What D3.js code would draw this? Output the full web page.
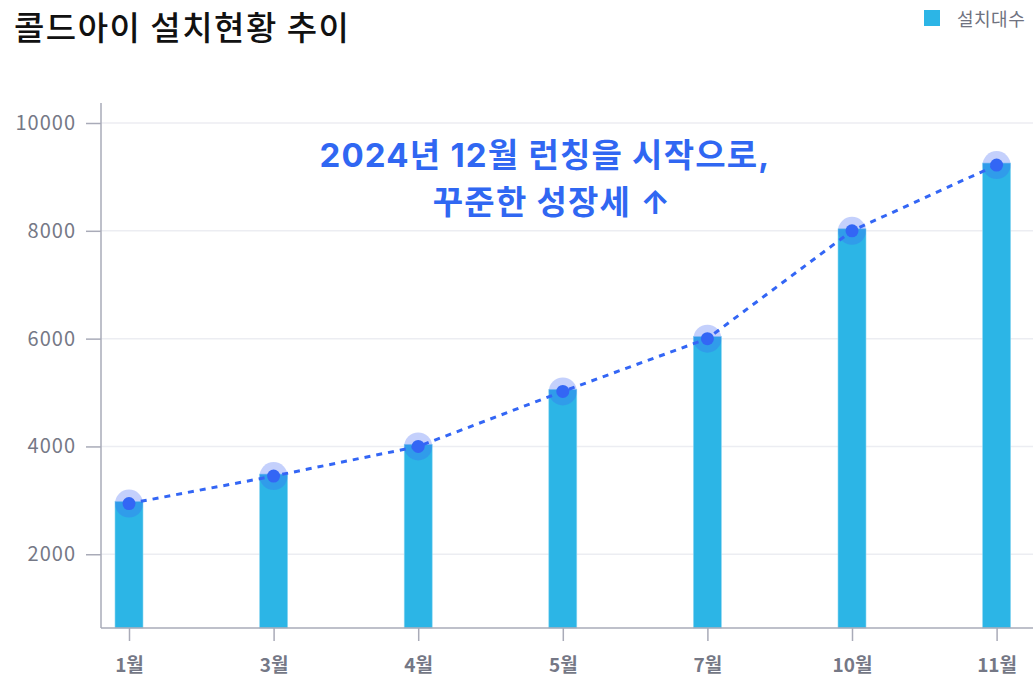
<html>
<head>
  <meta charset="utf-8" />
  <script src="https://cdnjs.cloudflare.com/ajax/libs/d3/7.8.5/d3.min.js"></script>
  <style>
    body { margin: 0; background: #fff; font-family: "Noto Sans CJK KR", "Noto Sans", sans-serif; }
    .y-axis path.domain, .x-axis path.domain { stroke: #a9abb8; stroke-width: 1.5; }
    .tick > line { stroke: #a9abb8; stroke-width: 1.5; }
    .y-axis .tick > text { fill: #757886; font-size: 20px; letter-spacing: 1px; }
    .x-axis .tick > text { fill: #757886; font-size: 19px; font-weight: 700; }
  </style>
</head>
<body>
  <svg></svg>
  <script>
  var months = ["1월", "3월", "4월", "5월", "7월", "10월", "11월"];
  var installs = [2940, 3450, 4000, 5020, 6000, 8000, 9220];
  var yTicks = [2000, 4000, 6000, 8000, 10000];
  var title = "콜드아이 설치현황 추이";
  var legendLabel = "설치대수";
  var note = ["2024년 12월 런칭을 시작으로,", "꾸준한 성장세 ↑"];

  var svg = d3.select("svg").attr("width", 1033).attr("height", 679);

  var xScale = d3.scalePoint().domain(months).range([129, 996.6]);
  var yScale = d3.scaleLinear().domain([632, 10371]).range([628, 103]);

  // grid
  svg.append("g").selectAll("line").data(yTicks).enter().append("line")
      .attr("x1", 101).attr("x2", 1033)
      .attr("y1", d => yScale(d)).attr("y2", d => yScale(d))
      .attr("stroke", "#ecedf2").attr("stroke-width", 1.5);

  // bars
  svg.append("g").selectAll("rect").data(installs).enter().append("rect")
      .attr("x", (d, i) => xScale(months[i]) - 14)
      .attr("width", 28)
      .attr("y", d => yScale(d) - 2)
      .attr("height", d => yScale(632) - yScale(d) + 2)
      .attr("fill", "#2cb5e6")
      .attr("stroke", "#8fd8f2").attr("stroke-width", 0.6);

  // axes
  svg.append("g").attr("class", "y-axis")
      .attr("transform", "translate(101,0)")
      .call(d3.axisLeft(yScale).tickValues(yTicks).tickSize(15).tickPadding(10).tickSizeOuter(0).tickFormat(d3.format("d")))
      .selectAll("text").style("font-family", "'Noto Sans CJK KR', sans-serif");
  svg.select(".y-axis path.domain").attr("d", "M0,103V628");

  svg.append("g").attr("class", "x-axis")
      .attr("transform", "translate(0,628)")
      .call(d3.axisBottom(xScale).tickSize(13).tickPadding(18).tickSizeOuter(0))
      .selectAll("text").style("font-family", "'Noto Sans CJK KR', sans-serif");
  svg.select(".x-axis path.domain").attr("d", "M101,0H1033");

  // trend line
  var line = d3.line().x((d, i) => xScale(months[i])).y(d => yScale(d));
  svg.append("path")
      .attr("d", line(installs))
      .attr("fill", "none")
      .attr("stroke", "#3366f5")
      .attr("stroke-width", 3)
      .attr("stroke-dasharray", "6,6");

  var pts = svg.append("g").selectAll("g").data(installs).enter().append("g")
      .attr("transform", (d, i) => "translate(" + xScale(months[i]) + "," + yScale(d) + ")");
  pts.append("circle").attr("r", 14).attr("fill", "rgba(60,100,245,0.3)");
  pts.append("circle").attr("r", 6.5).attr("fill", "#3366f5");

  // annotation
  svg.append("g").selectAll("text").data(note).enter().append("text")
      .attr("x", (d, i) => i ? 552 : 545).attr("y", (d, i) => 167 + i * 47)
      .attr("text-anchor", "middle")
      .attr("fill", "#3067f2")
      .attr("font-size", 33).attr("font-weight", 700)
      .attr("letter-spacing", 1.2)
      .attr("font-family", "Inter, 'Noto Sans CJK KR', sans-serif")
      .text(d => d);

  // title + legend
  svg.append("text").attr("x", 14).attr("y", 40)
      .attr("font-size", 33).attr("font-weight", 500).attr("fill", "#111")
      .attr("letter-spacing", 1.5)
      .text(title);
  svg.append("rect").attr("x", 924).attr("y", 10).attr("width", 16).attr("height", 16).attr("fill", "#2cb5e6");
  svg.append("text").attr("x", 957).attr("y", 26)
      .attr("font-size", 18).attr("fill", "#6f7280")
      .attr("letter-spacing", 0.5)
      .text(legendLabel);
  </script>
</body>
</html>
